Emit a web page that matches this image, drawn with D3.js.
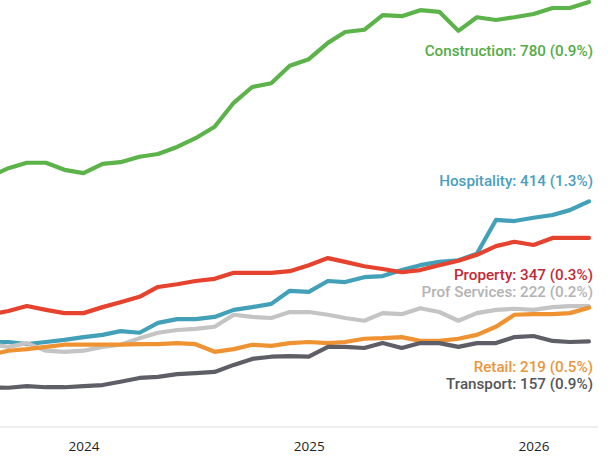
<!DOCTYPE html>
<html>
<head>
<meta charset="utf-8">
<script src="https://cdn.jsdelivr.net/npm/d3@7"></script>
<style>
    body { margin: 0; background: #fff; }
    svg { display: block; }
    .tick text { font-family: "Open Sans", sans-serif; font-size: 13.5px; fill: #222; }
    .label { font-family: Roboto, sans-serif; font-size: 15.2px; font-weight: 500; }
</style>
</head>
<body>
<div id="chart"></div>
<script>
// monthly, Aug 2023 .. Apr 2026
const startMonth = new Date(2023, 7, 1);
const construction = [459, 475, 485, 485, 472, 466, 483, 486, 496, 501, 514, 530, 551, 595, 624, 631, 663, 675, 705, 725, 729, 756, 754, 765, 762, 727, 752, 747, 752, 758, 769, 769, 780];
const hospitality = [156, 156, 152, 156, 160, 165, 169, 176, 173, 191, 198, 198, 202, 215, 220, 226, 250, 248, 268, 266, 275, 277, 288, 297, 303, 306, 318, 380, 378, 384, 389, 398, 414];
const property = [206, 213, 222, 215, 209, 209, 220, 229, 239, 257, 262, 268, 272, 283, 283, 283, 286, 297, 310, 303, 295, 290, 284, 288, 297, 305, 316, 332, 340, 334, 347, 347, 347];
const profServices = [152, 147, 154, 140, 138, 140, 147, 151, 163, 173, 178, 180, 184, 206, 202, 200, 211, 211, 206, 200, 195, 209, 207, 218, 211, 195, 209, 215, 217, 215, 220, 222, 222];
const retail = [132, 140, 143, 147, 151, 151, 151, 151, 152, 152, 154, 152, 138, 143, 151, 149, 154, 156, 154, 156, 162, 163, 165, 158, 158, 162, 169, 184, 206, 207, 207, 209, 219];
const transport = [73, 72, 75, 73, 73, 75, 77, 83, 90, 92, 97, 99, 101, 114, 125, 129, 130, 129, 147, 147, 145, 154, 145, 154, 154, 147, 154, 154, 165, 167, 158, 156, 157];
const seriesNames = ["Hospitality", "Prof Services", "Retail", "Transport", "Property", "Construction"];
const seriesValues = [hospitality, profServices, retail, transport, property, construction];
const seriesChange = ["1.3%", "0.2%", "0.5%", "0.9%", "0.3%", "0.9%"];
const yearTicks = [2024, 2025, 2026];

// styling
const lineColors = ["#42a0b8", "#c4c4c4", "#ef9232", "#5e5e66", "#e5432e", "#5cb34a"];
const labelColors = ["#4a9ec0", "#b3b3b3", "#e8963c", "#555559", "#c22a36", "#54ab45"];
const labelDy = [-15, -9, 64, 48, 42, 54];

const width = 613, height = 460;

const svg = d3.select("#chart").append("svg")
    .attr("width", width)
    .attr("height", height);

const x = d3.scaleTime()
    .domain([new Date(2024, 0, 1), new Date(2026, 0, 1)])
    .range([83.5, 533.5]);

const y = d3.scaleLinear()
    .domain([0, 780])
    .range([427, 2]);

const dates = construction.map((d, i) => d3.timeMonth.offset(startMonth, i));

// baseline
svg.append("line")
    .attr("x1", 0).attr("x2", 598)
    .attr("y1", y(0)).attr("y2", y(0))
    .attr("stroke", "#e8e8e8")
    .attr("stroke-width", 1.5);

const xAxis = d3.axisBottom(x)
    .tickValues(yearTicks.map(yr => new Date(yr, 0, 1)))
    .tickFormat(d3.timeFormat("%Y"))
    .tickSize(0)
    .tickPadding(14);

svg.append("g")
    .attr("transform", `translate(0,${y(0)})`)
    .call(xAxis)
    .call(g => g.select(".domain").remove());

const line = d3.line()
    .x((d, i) => x(dates[i]))
    .y(d => y(d));

seriesValues.forEach((vals, s) => {
    svg.append("path")
        .datum(vals)
        .attr("fill", "none")
        .attr("stroke", lineColors[s])
        .attr("stroke-width", 4.2)
        .attr("stroke-linejoin", "round")
        .attr("stroke-linecap", "round")
        .attr("d", line);
});

// end labels
seriesValues.forEach((vals, s) => {
    const last = vals[vals.length - 1];
    svg.append("text")
        .attr("class", "label")
        .attr("x", 593)
        .attr("y", y(last) + labelDy[s])
        .attr("text-anchor", "end")
        .attr("fill", labelColors[s])
        .text(`${seriesNames[s]}: ${last} (${seriesChange[s]})`);
});
</script>
</body>
</html>
